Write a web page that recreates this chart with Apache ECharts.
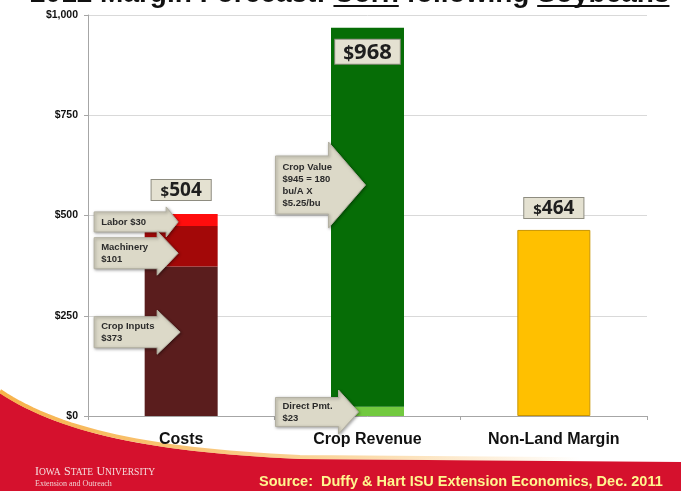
<!DOCTYPE html>
<html>
<head>
<meta charset="utf-8">
<script src="https://cdn.jsdelivr.net/npm/echarts@6/dist/echarts.min.js"></script>
<style>
html,body{margin:0;padding:0;background:#fff}
#main{width:681px;height:491px}
</style>
</head>
<body>
<div id="main"></div>
<script>
// data
var categories = ['Costs', 'Crop Revenue', 'Non-Land Margin'];
var cropInputs = [373, '-', '-'];
var machinery = [101, '-', '-'];
var labor = [30, '-', '-'];
var directPmt = ['-', 23, '-'];
var cropValue = ['-', 945, '-'];
var margin = ['-', '-', 464];
var totals = [504, 968, 464];
var yTicks = [0, 250, 500, 750, 1000];

// callout arrows: category, value where the tip points, text
var callouts = [
  {cat: 'Costs', value: 484, text: 'Labor $30', dx: -3, left: 84, head: 12, bh: 10, hh: 15},
  {cat: 'Costs', value: 406, text: 'Machinery\n$101', dx: -3, left: 84, head: 21, bh: 15.5, hh: 22},
  {cat: 'Costs', value: 209, text: 'Crop Inputs\n$373', dx: -1, left: 86, head: 23, bh: 15.5, hh: 22},
  {cat: 'Crop Revenue', value: 576, text: 'Crop Value\n$945 = 180\nbu/A X\n$5.25/bu', dx: -2, left: 90, head: 37, bh: 29, hh: 43},
  {cat: 'Crop Revenue', value: 10, text: 'Direct Pmt.\n$23', dx: -9, left: 83, head: 20, bh: 14.5, hh: 22}
];

var sans = "'Liberation Sans', Arial, sans-serif";
var calib = "'Open Sans', 'Liberation Sans', sans-serif";

function money(v){
  return '$' + String(v).replace(/\B(?=(\d{3})+(?!\d))/g, ',');
}

function totalLabel(pos, dist, big){
  return {
    show: true,
    position: pos,
    distance: dist,
    formatter: function(p){ return '{d|$}{n|' + totals[p.dataIndex] + '}'; },
    backgroundColor: '#e4e1d1',
    borderColor: '#8e8c80',
    borderWidth: 1,
    padding: big ? [2, 8, 0, 8] : [1, 9, 0, 9],
    rich: {
      d: {fontFamily: calib, fontWeight: 'bold', fontSize: big ? 19 : 15, color: '#1e1e1e', verticalAlign: 'bottom'},
      n: {fontFamily: calib, fontWeight: 'bold', fontSize: big ? 22 : 19, color: '#1e1e1e', verticalAlign: 'bottom'}
    }
  };
}

var chart = echarts.init(document.getElementById('main'));

var option = {
  backgroundColor: '#fff',
  animation: false,
  grid: {left: 88, right: 34, top: 15, bottom: 75, outerBoundsMode: 'none'},
  xAxis: {
    type: 'category',
    data: categories,
    axisLine: {lineStyle: {color: '#a6a6a6'}},
    axisTick: {show: true, length: 4, lineStyle: {color: '#a6a6a6'}},
    axisLabel: {interval: 0, fontFamily: sans, fontWeight: 'bold', fontSize: 16, color: '#111', margin: 16}
  },
  yAxis: {
    type: 'value',
    min: yTicks[0],
    max: yTicks[yTicks.length - 1],
    interval: yTicks[1] - yTicks[0],
    axisLine: {show: true, lineStyle: {color: '#a6a6a6'}},
    axisTick: {show: true, length: 4, lineStyle: {color: '#a6a6a6'}},
    axisLabel: {formatter: money, fontFamily: sans, fontWeight: 'bold', fontSize: 10.5, color: '#111', margin: 10},
    splitLine: {lineStyle: {color: '#d9d9d9'}}
  },
  series: [
    {name: 'Crop Inputs', type: 'bar', stack: 'a', barWidth: 73, data: cropInputs, itemStyle: {color: '#5a1d1d'}},
    {name: 'Machinery', type: 'bar', stack: 'a', data: machinery, itemStyle: {color: '#a30808'}},
    {name: 'Labor', type: 'bar', stack: 'a', data: labor, itemStyle: {color: '#ff0d0d'}, label: totalLabel('top', 14, false)},
    {name: 'Direct Pmt.', type: 'bar', stack: 'a', data: directPmt, itemStyle: {color: '#72c93f'}},
    {name: 'Crop Value', type: 'bar', stack: 'a', data: cropValue, itemStyle: {color: '#066d06'}, label: totalLabel('insideTop', 12, true)},
    {name: 'Non-Land Margin', type: 'bar', stack: 'a', data: margin, itemStyle: {color: '#ffc000', borderColor: '#c99400', borderWidth: 1}, label: totalLabel('top', 12, false)}
  ]
};
chart.setOption(option);

// sample a cubic curve for the red band edge
function curve(p0, p1, p2, p3, n){
  var pts = [];
  for (var i = 0; i <= n; i++) {
    var t = i / n, u = 1 - t;
    pts.push([
      u*u*u*p0[0] + 3*u*u*t*p1[0] + 3*u*t*t*p2[0] + t*t*t*p3[0],
      u*u*u*p0[1] + 3*u*u*t*p1[1] + 3*u*t*t*p2[1] + t*t*t*p3[1]
    ]);
  }
  return pts;
}

var g = [];

var edge = curve([0, 393], [60, 433], [150, 452], [300, 459], 30);
edge.push([681, 462]);
g.push({
  type: 'polygon', z: -1, silent: true,
  shape: {points: edge.concat([[681, 491], [0, 491]])},
  style: {fill: '#d5112d'}
});
g.push({
  type: 'polyline', z: -1, silent: true,
  shape: {points: edge.map(function(p){ return [p[0], p[1] - 2]; })},
  style: {fill: null, lineWidth: 4, stroke: new echarts.graphic.LinearGradient(0, 0, 1, 0, [
    {offset: 0, color: '#f7b24a'}, {offset: 0.45, color: 'rgba(247,178,74,0.6)'}, {offset: 0.85, color: 'rgba(247,178,74,0)'}
  ])}
});

// cut-off title at the very top, underlines measured from the text
var titleFont = 'bold 28px ' + sans;
var titleParts = ['2012 Margin Forecast: ', 'Corn', ' following ', 'Soybeans'];
var ctx = document.createElement('canvas').getContext('2d');
ctx.font = titleFont;
var tx0 = 30, cursor = tx0;
g.push({
  type: 'text', z: 10, silent: true,
  style: {text: titleParts.join(''), x: tx0, y: 8, textVerticalAlign: 'bottom', font: titleFont, fill: '#111'}
});
titleParts.forEach(function(s, i){
  var w = ctx.measureText(s).width;
  if (i === 1 || i === 3) {
    g.push({type: 'rect', z: 10, silent: true, shape: {x: cursor, y: 5, width: w, height: 2}, style: {fill: '#111'}});
  }
  cursor += w;
});

// university mark
g.push({
  type: 'text', z: 10, silent: true,
  style: {
    text: '{b|I}{s|OWA} {b|S}{s|TATE} {b|U}{s|NIVERSITY}\n{e|Extension and Outreach}',
    x: 35, y: 466,
    rich: {
      b: {fontFamily: "'Liberation Serif', serif", fontSize: 12, fill: '#f4dede', lineHeight: 12},
      s: {fontFamily: "'Liberation Serif', serif", fontSize: 9.5, fill: '#f4dede', lineHeight: 12},
      e: {fontFamily: "'Liberation Serif', serif", fontSize: 8, fill: '#f0d0d0', lineHeight: 11}
    }
  }
});

// source
g.push({
  type: 'text', z: 10, silent: true,
  style: {text: 'Source:  Duffy & Hart ISU Extension Economics, Dec. 2011', x: 259, y: 482,
    textVerticalAlign: 'middle', font: 'bold 14.5px ' + sans, fill: '#fff68f'}
});

callouts.forEach(function(c){
  var p = chart.convertToPixel({gridIndex: 0}, [c.cat, c.value]);
  var tx = p[0] + c.dx, ty = p[1];
  var x0 = tx - c.left, xh = tx - c.head;
  g.push({
    type: 'polygon', z: 20, silent: true,
    shape: {points: [[x0, ty - c.bh], [xh, ty - c.bh], [xh, ty - c.hh], [tx, ty], [xh, ty + c.hh], [xh, ty + c.bh], [x0, ty + c.bh]]},
    style: {fill: '#dcd9c8', stroke: '#b3b0a2', lineWidth: 1, shadowBlur: 3, shadowOffsetX: 1, shadowOffsetY: 1, shadowColor: 'rgba(0,0,0,0.35)'}
  });
  g.push({
    type: 'text', z: 21, silent: true,
    style: {text: c.text, x: x0 + 7, y: ty, textVerticalAlign: 'middle', font: 'bold 9.5px ' + sans, lineHeight: 12, fill: '#2b2b2b'}
  });
});

chart.setOption({graphic: g});
</script>
</body>
</html>
